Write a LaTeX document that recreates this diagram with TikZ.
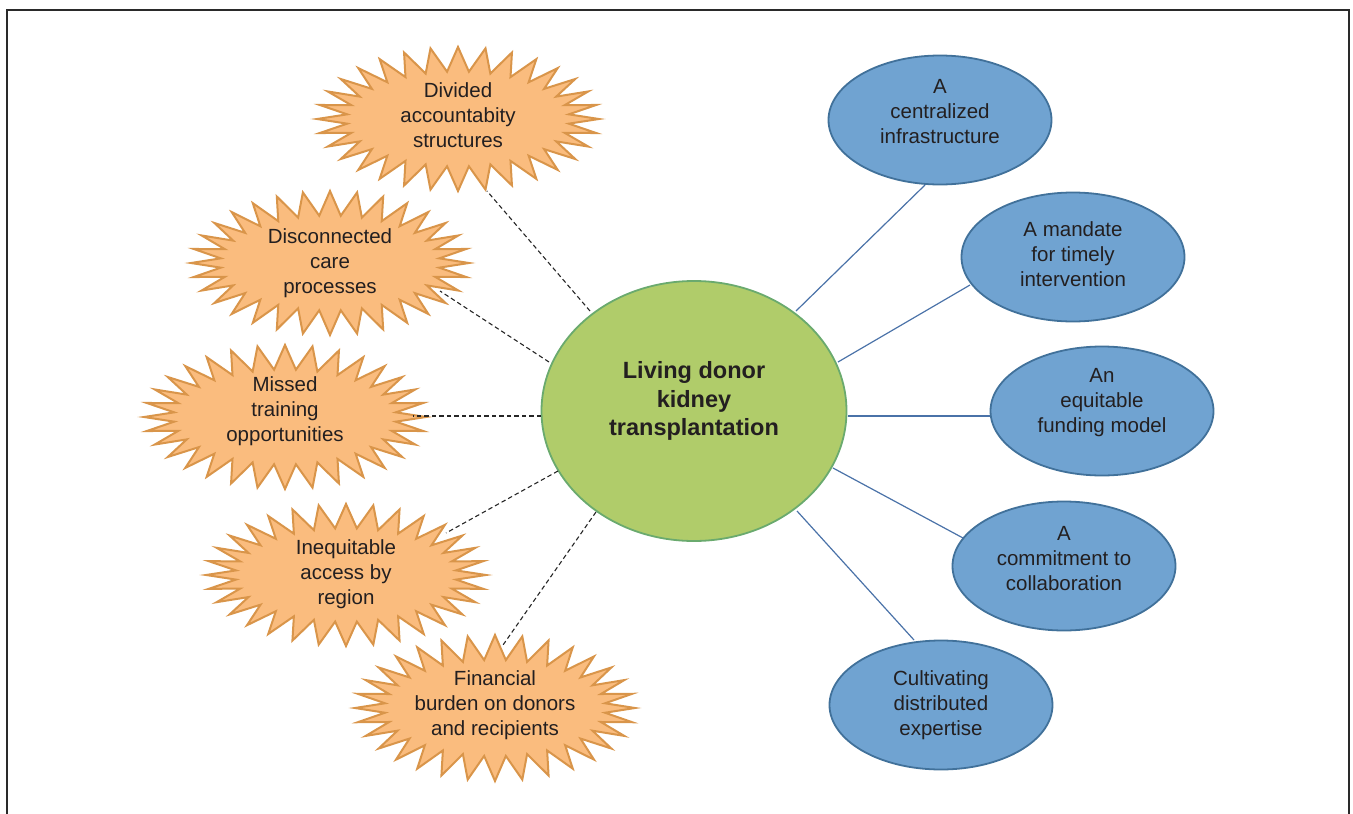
\documentclass[tikz,border=0pt]{standalone}
\usepackage{fontspec}
\setmainfont{Liberation Sans}
\usetikzlibrary{calc,shapes.geometric}
\definecolor{starfill}{HTML}{FABC7E}
\definecolor{stardraw}{HTML}{D9954A}
\definecolor{greenfill}{HTML}{B0CC6A}
\definecolor{greendraw}{HTML}{6AAA6E}
\definecolor{bluefill}{HTML}{70A3D1}
\definecolor{bluedraw}{HTML}{41719A}
\definecolor{blueline}{HTML}{4A72A8}
\definecolor{txtc}{HTML}{231F20}
\definecolor{framec}{HTML}{2A2A2A}
% #1 coordinate name, #2 half width, #3 half height, #4 vertical offset of the star centre
\newcommand\burstshape[4]{%
  \draw[burststyle] ($(#1)+(#2,#4)$)
    \foreach \i in {1,...,63}{ -- ($(#1)+({#2*(1-0.21*mod(\i,2))*cos(\i*5.625)},{#4+#3*(1-0.34*mod(\i,2))*sin(\i*5.625)})$) } -- cycle;}
\begin{document}
\begin{tikzpicture}[x=1pt,y=-1pt,
  burststyle/.style={fill=starfill,draw=stardraw,line width=2pt,line join=miter},
  txt/.style={align=center,text=txtc,font=\fontsize{20.5}{25}\selectfont,inner sep=0pt},
  boldtxt/.style={align=center,text=txtc,font=\fontsize{23.5}{28.5}\selectfont\bfseries,inner sep=0pt},
  blueell/.style={ellipse,draw=bluedraw,fill=bluefill,line width=1.8pt,minimum width=223pt,minimum height=129pt,inner sep=0pt},
  greenell/.style={ellipse,draw=greendraw,fill=greenfill,line width=1.8pt,minimum width=305pt,minimum height=260pt,inner sep=0pt},
  dashline/.style={draw=black!85,line width=1.1pt,dash pattern=on 4.5pt off 3pt},
  solidline/.style={draw=blueline,line width=1.2pt},
  framestyle/.style={draw=framec,line width=1.6pt}]
\useasboundingbox (0,0) rectangle (1353,814);
\draw[framestyle] (7,814) -- (7,10) -- (1349,10) -- (1349,814);

% starbursts
\coordinate (div) at (458,115);
\coordinate (dis) at (330,263);
\coordinate (mis) at (285,411);
\coordinate (ine) at (346,574);
\coordinate (fin) at (495,705);
\burstshape{div}{141}{72}{4}
\burstshape{dis}{139}{72}{0}
\burstshape{mis}{141}{72}{6}
\burstshape{ine}{140}{71}{1}
\burstshape{fin}{140}{73}{3}
\node[txt] (div-t) at (div) {Divided\\accountabity\\structures};
\node[txt] (dis-t) at (dis) {Disconnected\\care\\processes};
\node[txt] (mis-t) at (mis) {Missed\\training\\opportunities};
\node[txt] (ine-t) at (ine) {Inequitable\\access by\\region};
\node[txt] (fin-t) at (fin) {Financial\\burden on donors\\and recipients};

% centre
\node[greenell] (g) at (694,411) {};
\node[boldtxt] (g-t) at (694,401) {Living donor\\kidney\\transplantation};

% blue ellipses
\node[blueell] (cen) at (940,120) {};
\node[blueell] (man) at (1073,257) {};
\node[blueell] (equ) at (1102,411) {};
\node[blueell] (com) at (1064,566) {};
\node[blueell] (cul) at (941,705) {};
\node[txt] (cen-t) at (940,112) {A\\centralized\\infrastructure};
\node[txt] (man-t) at (1073,254) {A mandate\\for timely\\intervention};
\node[txt] (equ-t) at (1102,403) {An\\equitable\\funding model};
\node[txt] (com-t) at (1064,559) {A\\commitment to\\collaboration};
\node[txt] (cul-t) at (941,705) {Cultivating\\distributed\\expertise};

% dashed connectors
\draw[dashline] ($(g)+(-104,-100)$) -- ($(div)+(29,76)$);
\draw[dashline] ($(g)+(-145,-49)$) -- ($(dis)+(110,28)$);
\draw[dashline] ($(g)+(-153,5)$) -- ($(mis)+(128,5)$);
\draw[dashline] ($(g)+(-136,60)$) -- ($(ine)+(100,-41)$);
\draw[dashline] ($(g)+(-98,101)$) -- ($(fin)+(8,-60)$);

% solid connectors
\draw[solidline] ($(g)+(102,-100)$) -- ($(cen)+(-15,65)$);
\draw[solidline] ($(g)+(144,-49)$) -- ($(man)+(-103,28)$);
\draw[solidline] ($(g)+(154,5)$) -- ($(equ)+(-112,5)$);
\draw[solidline] ($(g)+(139,57)$) -- ($(com)+(-101,-28)$);
\draw[solidline] ($(g)+(103,100)$) -- ($(cul)+(-27,-65)$);
\end{tikzpicture}
\end{document}
